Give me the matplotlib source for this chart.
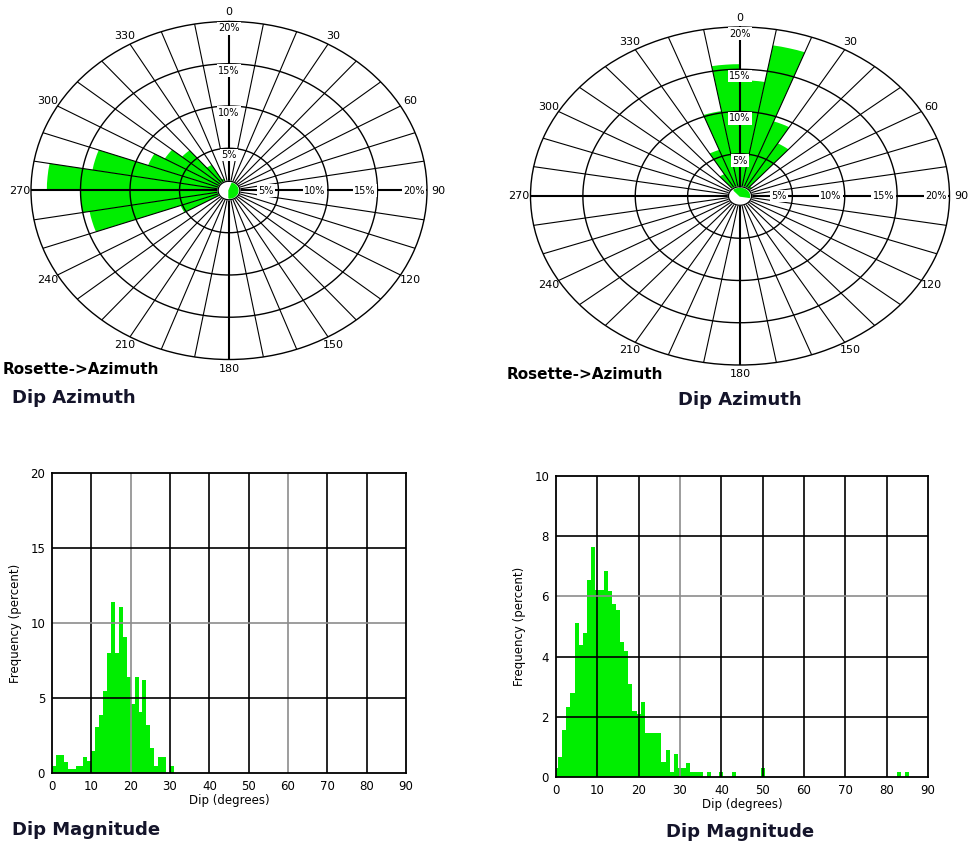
import numpy as np
import matplotlib.pyplot as plt

# ---- rose diagrams: sector start azimuth (deg) and percent of picks ----
az_left = [230, 240, 250, 260, 270, 280, 290, 300, 310, 320, 330]
pct_left = [1.0, 5.2, 14.3, 15.0, 18.4, 14.0, 8.7, 7.5, 6.2, 3.5, 1.5]

az_right = [310, 320, 330, 340, 350, 0, 10, 20, 30, 40, 50]
pct_right = [1.0, 3.0, 5.8, 10.2, 15.6, 13.7, 18.1, 9.4, 7.2, 1.5, 0.8]

# ---- dip magnitude histograms, 1 degree bins ----
dip_left = list(range(0, 31))  # lower bin edge
freq_left = [0.5, 1.2, 1.2, 0.75, 0.3, 0.3, 0.5, 0.5, 1.05, 0.8,
             1.45, 3.1, 3.9, 5.5, 8.0, 11.4, 8.0, 11.1, 9.1, 6.4,
             4.6, 6.4, 4.1, 6.2, 3.2, 1.7, 0.5, 1.05, 1.05, 0.0, 0.5]

dip_right = list(range(0, 36)) + [37, 40, 43, 50, 83, 85]  # bin centre
freq_right = [0.3, 0.67, 1.56, 2.31, 2.8, 5.13, 4.4, 4.8, 6.56, 7.63,
              6.2, 6.2, 6.83, 6.17, 5.76, 5.56, 4.5, 4.2, 3.1, 2.2,
              2.1, 2.5, 1.45, 1.45, 1.45, 1.45, 0.5, 0.91, 0.15, 0.76,
              0.3, 0.3, 0.48, 0.15, 0.15, 0.15,
              0.15, 0.15, 0.15, 0.3, 0.15, 0.15]

GREEN = '#00ee00'
W, H = 970, 846

fig = plt.figure(figsize=(W / 100, H / 100), dpi=100)
fig.patch.set_facecolor('white')


def px_rect(x0, y0, w, h):
    return [x0 / W, 1 - (y0 + h) / H, w / W, h / H]


def rose(rect, az, pct, hub_from, hub_to):
    ax = fig.add_axes(rect, projection='polar')
    ax.set_theta_zero_location('N')
    ax.set_theta_direction(-1)
    ax.set_aspect('auto')
    ax.set_ylim(0, 20)
    ax.grid(False)
    ax.set_xticks([])
    ax.set_yticks([])
    ax.spines['polar'].set_linewidth(1.0)
    ax.spines['polar'].set_color('black')

    theta = np.deg2rad(np.array(az) + 5)
    ax.bar(theta, pct, width=np.deg2rad(10), color=GREEN, linewidth=0, zorder=1)

    t = np.linspace(0, 2 * np.pi, 721)
    for r in (5, 10, 15):
        ax.plot(t, np.full_like(t, r), color='black', lw=1.0, zorder=3)
    for a in range(0, 360, 10):
        lw = 1.5 if a % 90 == 0 else 0.8
        ax.plot([np.deg2rad(a)] * 2, [1.1, 20], color='black', lw=lw, zorder=3)

    # hub
    ax.fill(t, np.full_like(t, 1.1), color='white', zorder=4)
    th = np.deg2rad(np.linspace(hub_from, hub_to, 60))
    ax.fill(np.r_[0, th, 0], np.r_[0, np.full_like(th, 0.9), 0], color=GREEN, zorder=5)
    ax.plot(t, np.full_like(t, 1.1), color='black', lw=0.9, zorder=6)

    for a in range(0, 360, 30):
        ax.text(np.deg2rad(a), 21.1, str(a), ha='center', va='center',
                fontsize=8, clip_on=False)
    box = dict(fc='white', ec='none', pad=1.0)
    for r in (5, 10, 15, 20):
        ax.text(0, r - 0.8, f'{r}%', ha='center', va='center', fontsize=7,
                bbox=box, zorder=7)
        ax.text(np.pi / 2, r - 1.3, f'{r}%', ha='center', va='center',
                fontsize=7, bbox=box, zorder=7)
    return ax


def hist(rect, x, y, align, ymax, ystep, grey_x, grey_y):
    ax = fig.add_axes(rect)
    ax.bar(x, y, width=1.0, align=align, color=GREEN, linewidth=0, zorder=1)
    ax.set_xlim(0, 90)
    ax.set_ylim(0, ymax)
    ax.set_xticks(range(0, 91, 10))
    yt = list(range(0, ymax + 1, ystep))
    ax.set_yticks(yt)
    ax.set_yticklabels([str(v) for v in yt])
    for v in range(10, 90, 10):
        ax.axvline(v, color='#8c8c8c' if v in grey_x else 'black', lw=1.2, zorder=3)
    for v in yt[1:-1]:
        ax.axhline(v, color='#8c8c8c' if v in grey_y else 'black', lw=1.2, zorder=3)
    for s in ax.spines.values():
        s.set_linewidth(1.3)
        s.set_zorder(4)
    ax.tick_params(length=0, labelsize=8.5, pad=5)
    ax.set_xlabel('Dip (degrees)', fontsize=8.5, labelpad=1)
    ax.set_ylabel('Frequency (percent)', fontsize=8.5, labelpad=6)
    return ax


rose(px_rect(31, 21.5, 396, 338), az_left, pct_left, 20, 180)
rose(px_rect(530.5, 27, 419, 338), az_right, pct_right, -40, 100)

hist(px_rect(52, 473, 354, 300), dip_left, freq_left, 'edge', 20, 5, (20, 60), (10,))
hist(px_rect(556, 476, 372, 301), dip_right, freq_right, 'center', 10, 2, (30,), (6,))

# panel captions
fig.text(3 / W, 1 - 374 / H, 'Rosette->Azimuth', fontsize=11, fontweight='bold')
fig.text(507 / W, 1 - 379 / H, 'Rosette->Azimuth', fontsize=11, fontweight='bold')

title_kw = dict(fontsize=13, fontweight='bold', color='#14142a')
fig.text(12 / W, 1 - 403 / H, 'Dip Azimuth', **title_kw)
fig.text(740 / W, 1 - 405 / H, 'Dip Azimuth', ha='center', **title_kw)
fig.text(12 / W, 1 - 835 / H, 'Dip Magnitude', **title_kw)
fig.text(740 / W, 1 - 837 / H, 'Dip Magnitude', ha='center', **title_kw)

fig.savefig('out.png', dpi=100)
